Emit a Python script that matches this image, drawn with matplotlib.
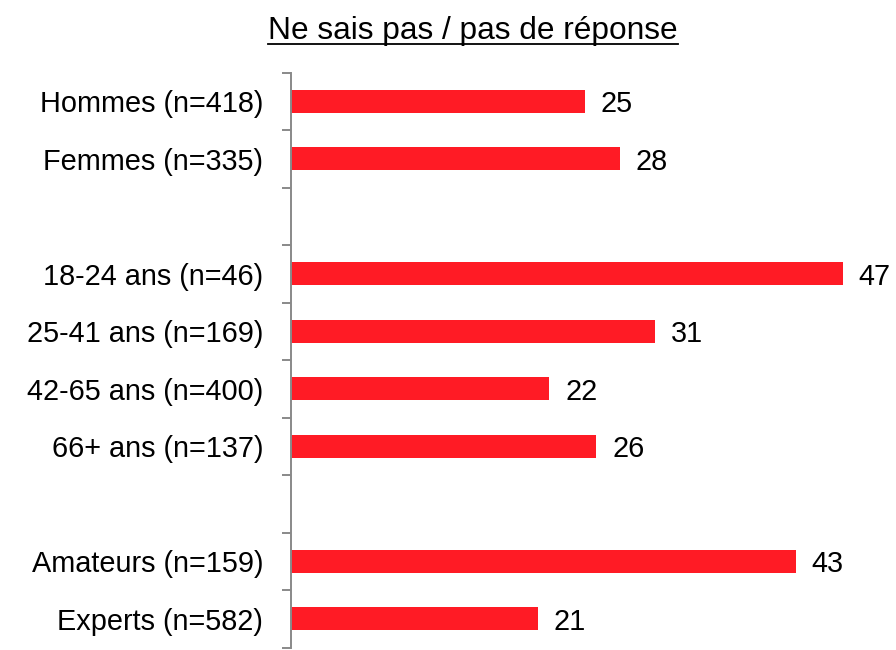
import matplotlib
matplotlib.use('Agg')
import matplotlib.pyplot as plt
import numpy as np

plt.rcParams.update({"font.family": ["Liberation Sans", "DejaVu Sans"]})

TITLE = "Ne sais pas / pas de réponse"
# empty strings are the spacer rows between groups
categories = ["Hommes (n=418)", "Femmes (n=335)", "",
              "18-24 ans (n=46)", "25-41 ans (n=169)", "42-65 ans (n=400)", "66+ ans (n=137)", "",
              "Amateurs (n=159)", "Experts (n=582)"]
values = [25, 28, None, 47, 31, 22, 26, None, 43, 21]

C_BAR = "#FF1B25"; C_AX = "#898989"

fig = plt.figure(figsize=(8.96, 6.5), dpi=100)
ax = fig.add_axes([291/896, 2.3/650, 587/896, 575/650])

ys = np.arange(len(categories))
for y, v in zip(ys, values):
    if v is None: continue
    ax.barh(y, v, height=0.40, color=C_BAR, zorder=2)
    ax.annotate(f"{v}", (v, y), xytext=(16, 0), textcoords="offset pixels",
                ha="left", va="center_baseline", fontsize=20.8, color="black")

ax.set_xlim(0, 50)
ax.set_ylim(len(categories) - 0.5, -0.5)
ax.set_yticks(ys)
ax.set_yticklabels(categories, fontsize=20.8, va="center_baseline")
ax.set_yticks(np.arange(len(categories) + 1) - 0.5, minor=True)
ax.tick_params(axis="y", which="major", length=0, pad=20)
ax.tick_params(axis="y", which="minor", length=6.5, width=1.4, color=C_AX)
ax.set_xticks([])
for s in ["top", "right", "bottom"]:
    ax.spines[s].set_visible(False)
ax.spines["left"].set_color(C_AX)
ax.spines["left"].set_linewidth(1.4)

t = fig.text(473/896, 1 - 39.5/650, TITLE, ha="center", va="baseline", fontsize=22.8)
fig.canvas.draw()
bb = t.get_window_extent()
fig.add_artist(plt.Line2D([bb.x0/896, bb.x1/896], [(650-44)/650]*2, color="black", lw=1.3))

fig.savefig("out.png", dpi=100)
